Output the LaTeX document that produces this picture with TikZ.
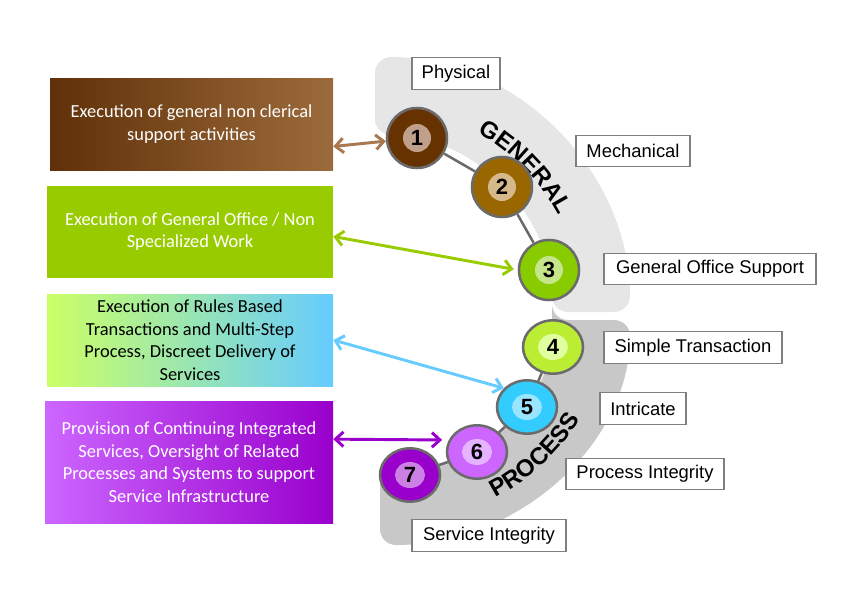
\documentclass[tikz,border=0pt]{standalone}
\usepackage{fontspec}
\setmainfont{Liberation Sans}
\newfontfamily\boxfont{Carlito}
\usetikzlibrary{shapes.geometric,arrows.meta,decorations.text,calc}
\definecolor{bandlight}{HTML}{E6E6E6}
\definecolor{banddark}{HTML}{C8C8C8}
\definecolor{labelgray}{HTML}{7F7F7F}
\definecolor{ringgray}{HTML}{6B6B6B}
\definecolor{browna}{HTML}{603008}
\definecolor{brownb}{HTML}{9C6B3C}
\definecolor{officegreen}{HTML}{99CC00}
\definecolor{rulesa}{HTML}{CCFF66}
\definecolor{rulesb}{HTML}{66CCFF}
\definecolor{purplea}{HTML}{CC66FF}
\definecolor{purpleb}{HTML}{9900CC}
\definecolor{arrowbrown}{HTML}{A87850}
\definecolor{arrowgreen}{HTML}{99CC00}
\definecolor{arrowblue}{HTML}{66CCFF}
\definecolor{arrowpurple}{HTML}{9900CC}
\definecolor{ringone}{HTML}{663300}
\definecolor{discone}{HTML}{C0A08A}
\definecolor{ringtwo}{HTML}{996600}
\definecolor{disctwo}{HTML}{D5B98A}
\definecolor{ringthree}{HTML}{88CC00}
\definecolor{discthree}{HTML}{C5E58A}
\definecolor{ringfour}{HTML}{BBEE33}
\definecolor{discfour}{HTML}{E0FFA0}
\definecolor{ringfive}{HTML}{33CCFF}
\definecolor{discfive}{HTML}{99E5FF}
\definecolor{ringsix}{HTML}{CC66FF}
\definecolor{discsix}{HTML}{E5B3FF}
\definecolor{ringseven}{HTML}{9900CC}
\definecolor{discseven}{HTML}{CC80E5}

\begin{document}
\begin{tikzpicture}[x=0.75pt,y=0.75pt,
  >={Straight Barb[length=6pt,width=11pt]},
  taskbox/.style={minimum height=69pt, align=center, inner sep=0pt, text=white,
    font=\boxfont\fontsize{13.8}{16.9}\selectfont},
  tagbox/.style={draw=labelgray, line width=0.8pt, fill=white, minimum height=23.5pt,
    inner sep=0pt, font=\fontsize{13.8}{16}\selectfont},
  stagehi/.style 2 args={circle, draw=ringgray, line width=1.9pt, fill=#1, minimum size=45pt,
    inner sep=0pt, font=\bfseries\fontsize{16.5}{16.5}\selectfont,
    path picture={\fill[#2] (path picture bounding box.center) circle (10.5pt);}},
  stagelo/.style 2 args={ellipse, draw=ringgray, line width=1.9pt, fill=#1, minimum width=45pt,
    minimum height=40pt, inner sep=0pt, font=\bfseries\fontsize{16.5}{16.5}\selectfont,
    path picture={\fill[#2] (path picture bounding box.center) ellipse [x radius=11.25pt, y radius=9.75pt];}},
  joint/.style={draw=ringgray, line width=1.9pt},
  pointer/.style={<->, line width=2.2pt}
]
\useasboundingbox (0,0) rectangle (857,-607);
\coordinate (gcenter) at (375,-312);
\coordinate (pcenter) at (380,-320);

\fill[bandlight, rounded corners=12] (375,-135) -- (375,-57) arc[start angle=90, end angle=0, radius=255]
  -- (552,-312) arc[start angle=0, end angle=90, radius=177] -- cycle;
\fill[banddark, rounded corners=12] (552,-320) -- (630,-320) arc[start angle=0, end angle=-90, x radius=250, y radius=225]
  -- (380,-470) arc[start angle=-90, end angle=0, x radius=172, y radius=150] -- cycle;

\path[decorate, decoration={text along path, text align=center,
  text={|\bfseries\fontsize{18}{18}\selectfont|GENERAL}}]
  ($(gcenter)+(64:207)$) arc[start angle=64, end angle=24, radius=207];
\path[decorate, decoration={text along path, text align=center,
  text={|\bfseries\fontsize{18}{18}\selectfont|PROCESS}}]
  ($(pcenter)+(-66:228 and 206)$) arc[start angle=-66, end angle=-22, x radius=228, y radius=206];

\node[taskbox, minimum width=212.25pt, left color=browna, right color=brownb] (generaltask) at (191.5,-124)
  {Execution of general non clerical\\support activities};
\node[taskbox, minimum width=214.5pt, fill=officegreen] (officetask) at (190,-231.5)
  {Execution of General Office / Non\\Specialized Work};
\node[taskbox, minimum width=214.5pt, left color=rulesa, right color=rulesb, text=black] (rulestask) at (190,-340)
  {Execution of Rules Based\\Transactions and Multi-Step\\Process, Discreet Delivery of\\Services};
\node[taskbox, minimum width=216pt, minimum height=91.5pt, left color=purplea, right color=purpleb] (integratedtask) at (189,-462)
  {Provision of Continuing Integrated\\Services, Oversight of Related\\Processes and Systems to support\\Service Infrastructure};

\node[tagbox, minimum width=66pt] (physical) at (456,-73.5) {Physical};
\node[tagbox, minimum width=85.5pt] (mechanical) at (633,-151) {Mechanical};
\node[tagbox, minimum width=159pt] (officesupport) at (710,-269) {General Office Support};
\node[tagbox, minimum width=133.5pt] (simple) at (693,-347.5) {Simple Transaction};
\node[tagbox, minimum width=64.5pt] (intricate) at (643,-408.5) {Intricate};
\node[tagbox, minimum width=118.5pt] (processint) at (645,-474) {Process Integrity};
\node[tagbox, minimum width=115.5pt] (serviceint) at (489,-535.5) {Service Integrity};

\node[stagehi={ringone}{discone}] (s1) at (417,-138) {1};
\node[stagehi={ringtwo}{disctwo}] (s2) at (502,-187) {2};
\node[stagehi={ringthree}{discthree}] (s3) at (549,-270) {3};
\node[stagelo={ringfour}{discfour}] (s4) at (553,-347) {4};
\node[stagelo={ringfive}{discfive}] (s5) at (527,-407) {5};
\node[stagelo={ringsix}{discsix}] (s6) at (477,-452) {6};
\node[stagelo={ringseven}{discseven}] (s7) at (410,-475) {7};

\draw[joint] (s1) -- (s2);
\draw[joint] (s2) -- (s3);
\draw[joint] (s4) -- (s5);
\draw[joint] (s5) -- (s6);
\draw[joint] (s6) -- (s7);

\draw[pointer, arrowbrown] (generaltask.-9) -- (s1);
\draw[pointer, arrowgreen, shorten >=3pt] (officetask.-2.6) -- (s3.west);
\draw[pointer, arrowblue] (rulestask.east) -- (s5.141);
\draw[pointer, arrowpurple, shorten >=5pt] (integratedtask.9.5) -- (s6.157);
\end{tikzpicture}
\end{document}
